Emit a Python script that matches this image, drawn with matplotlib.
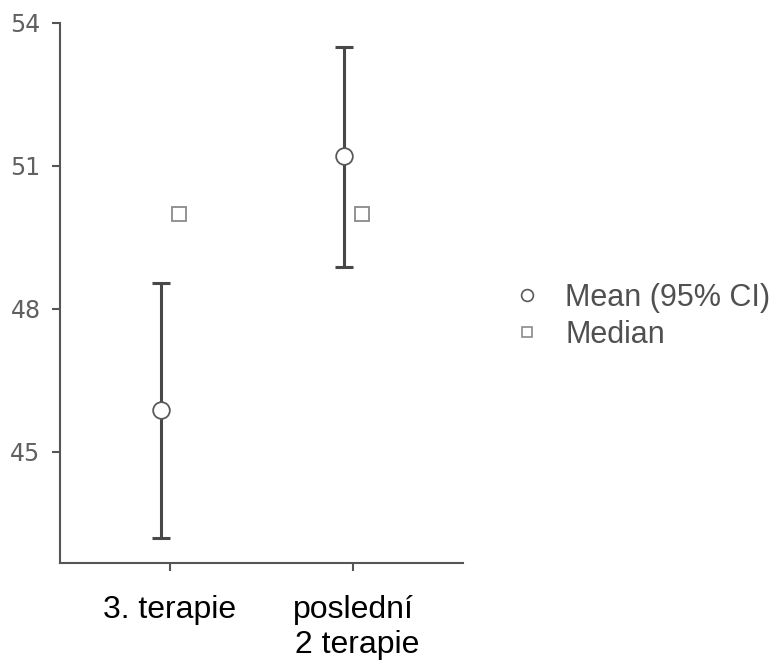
import matplotlib
matplotlib.use("Agg")
import matplotlib.pyplot as plt
from matplotlib.lines import Line2D
import numpy as np

#data
categories = ["3. terapie", "poslední\n 2 terapie"]
means = [45.87, 51.20]
ci_low = [43.20, 48.89]
ci_high = [48.55, 53.49]
medians = [50.0, 50.0]
y_ticks = [45, 48, 51, 54]

#offsets so mean and median do not overlap
x = np.arange(len(categories))
shift = 0.05

fig = plt.figure(figsize=(7.8, 6.66), dpi=100)
ax = fig.add_axes([0.0769, 0.1547, 0.5167, 0.8108])

yerr = [np.array(means) - np.array(ci_low), np.array(ci_high) - np.array(means)]
ax.errorbar(x - shift, means, yerr=yerr, fmt="none", ecolor="#484848",
            elinewidth=2.2, capsize=6.8, capthick=2.2, zorder=2)
ax.plot(x - shift, means, "o", ms=12, mfc="white", mec="#5a5a5a", mew=1.3, zorder=3)
ax.plot(x + shift, medians, "s", ms=9.5, mfc="white", mec="#8a8a8a", mew=1.3, zorder=3)

#axes styling
ax.set_xlim(-0.6, 1.6)
ax.set_ylim(42.67, 54)
ax.set_xticks(x)
ax.set_xticklabels(categories, fontsize=23, family="Liberation Sans", color="black")
ax.set_yticks(y_ticks)
ax.set_yticklabels([str(v) for v in y_ticks], fontsize=17, family="DejaVu Sans", color="#606060")
ax.tick_params(axis="x", length=6, width=1.5, color="#555555", pad=17)
ax.tick_params(axis="y", length=6, width=1.5, color="#555555", pad=8)
for s in ["top", "right"]:
    ax.spines[s].set_visible(False)
for s in ["left", "bottom"]:
    ax.spines[s].set_color("#555555")
    ax.spines[s].set_linewidth(1.5)

#legend on the right
handles = [Line2D([], [], ls="none", marker="o", ms=8.5, mfc="white", mec="#5a5a5a", mew=1.2),
           Line2D([], [], ls="none", marker="s", ms=7.5, mfc="white", mec="#8a8a8a", mew=1.2)]
leg = fig.legend(handles, ["Mean (95% CI)", "Median"], loc="center left",
                 bbox_to_anchor=(0.656, 0.525), frameon=False, borderpad=0,
                 borderaxespad=0, handlelength=1.0, handletextpad=0.75,
                 labelspacing=0.25, prop={"family": "Liberation Sans", "size": 22})
for t in leg.get_texts():
    t.set_color("#505050")

plt.savefig("out.png", dpi=100)
